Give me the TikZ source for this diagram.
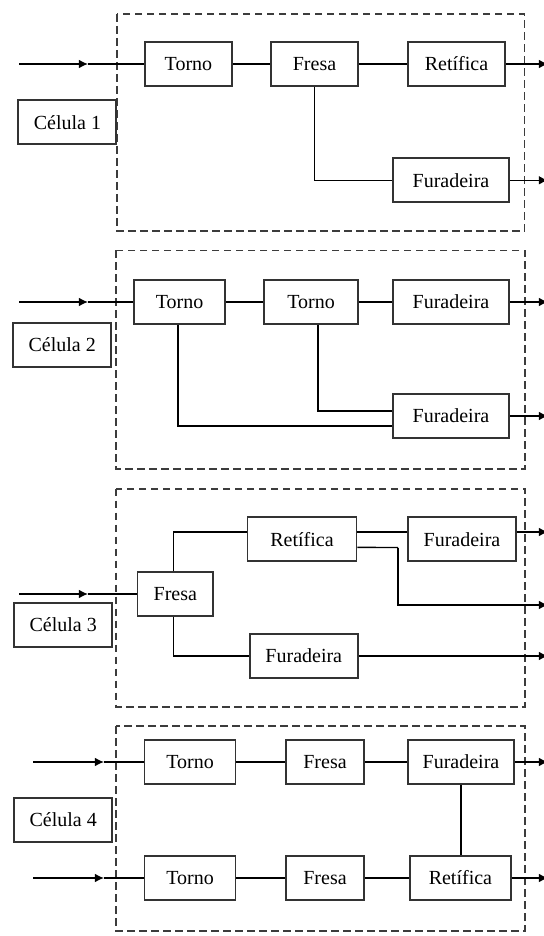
\documentclass[tikz,border=0pt]{standalone}
\usepackage{fontspec}
\setmainfont{Liberation Serif}
\usetikzlibrary{arrows.meta, calc}
\definecolor{boxgray}{HTML}{333333}
\definecolor{dashgray}{HTML}{3C3C3C}

\begin{document}
\begin{tikzpicture}[
  x=0.5pt, y=-0.5pt,
  >={Latex[length=4.6pt, width=4.4pt]},
  maq/.style={draw=boxgray, line width=0.95pt, minimum height=22pt, inner sep=0pt,
    font=\fontsize{10}{12}\selectfont},
  rotulo/.style={maq, minimum width=49pt},
  lig/.style={line width=0.7pt},
  celula/.style={draw=dashgray, line width=0.8pt, dash pattern=on 3.8pt off 2.2pt},
]
\useasboundingbox (0,0) rectangle (543,936);

% ============ Célula 1 ============
\draw[celula] (117,14) rectangle (524.6,231);
\node[rotulo] (cel1) at (67.4,122.4) {Célula 1};

\node[maq, minimum width=43.6pt] (torno1) at (188.4,64) {Torno};
\node[maq, minimum width=43.5pt] (fresa1) at (314.5,64) {Fresa};
\node[maq, minimum width=48.5pt] (ret1)   at (456.5,64) {Retífica};
\node[maq, minimum width=58pt]   (fura1)  at (451,180.3) {Furadeira};

\coordinate (in1)  at (19,64);
\coordinate (tip1) at (88,64);
\coordinate (out1a) at (548,64);
\coordinate (out1b) at (548,180.3);

\draw[lig, ->] (in1) -- (tip1);
\draw[lig] (tip1) -- (torno1) -- (fresa1) -- (ret1);
\draw[lig] (fresa1.south) |- (fura1.west);
\draw[lig, ->] (ret1.east) -- (out1a);
\draw[lig, ->] (fura1.east) -- (out1b);

% ============ Célula 2 ============
\draw[celula] (116,250.4) rectangle (525,469);
\node[rotulo] (cel2) at (62.2,345) {Célula 2};

\node[maq, minimum width=45.5pt] (torno2a) at (179.5,302) {Torno};
\node[maq, minimum width=47pt]   (torno2b) at (311,302) {Torno};
\node[maq, minimum width=58pt]   (fura2a)  at (451,302) {Furadeira};
\node[maq, minimum width=58pt]   (fura2b)  at (451,416) {Furadeira};

\coordinate (in2)  at (19,302);
\coordinate (tip2) at (88,302);
\coordinate (out2a) at (548,302);
\coordinate (out2b) at (548,416);

\draw[lig, ->] (in2) -- (tip2);
\draw[lig] (tip2) -- (torno2a) -- (torno2b) -- (fura2a);
\draw[lig] ([xshift=-0.7pt]torno2a.south) |- ([yshift=-5pt]fura2b.west);
\draw[lig] ([xshift=3.5pt]torno2b.south) |- ([yshift=2.6pt]fura2b.west);
\draw[lig, ->] (fura2a.east) -- (out2a);
\draw[lig, ->] (fura2b.east) -- (out2b);

% ============ Célula 3 ============
\draw[celula] (116,488.7) rectangle (525,706.8);
\node[rotulo] (cel3) at (63.2,625) {Célula 3};

\node[maq, minimum width=37.8pt] (fresa3) at (175.3,594) {Fresa};
\node[maq, minimum width=54.5pt] (ret3)   at (302,539.4) {Retífica};
\node[maq, minimum width=54pt]   (fura3a) at (462,539.4) {Furadeira};
\node[maq, minimum width=54pt]   (fura3b) at (303.8,656) {Furadeira};

\coordinate (in3)  at (19,594);
\coordinate (tip3) at (88,594);
\coordinate (dobra3) at (398,547.5);
\coordinate (out3a) at (548,532);
\coordinate (out3b) at (548,605);
\coordinate (out3c) at (548,656);

\draw[lig, ->] (in3) -- (tip3);
\draw[lig] (tip3) -- (fresa3);
\draw[lig] ([xshift=-1pt]fresa3.north) |- ([yshift=3.7pt]ret3.west);
\draw[lig] ([xshift=-1pt]fresa3.south) |- (fura3b.west);
\draw[lig] ([yshift=3.7pt]ret3.east) -- ([yshift=3.7pt]fura3a.west);
\draw[lig] ([yshift=-4pt]ret3.east) -- (dobra3);
\draw[lig, ->] (dobra3) |- (out3b);
\draw[lig, ->] ([yshift=3.7pt]fura3a.east) -- (out3a);
\draw[lig, ->] (fura3b.east) -- (out3c);

% ============ Célula 4 ============
\draw[celula] (116,726) rectangle (525,931);
\node[rotulo] (cel4) at (63.2,820) {Célula 4};

\node[maq, minimum width=45.5pt] (torno4a) at (190,762) {Torno};
\node[maq, minimum width=39.3pt] (fresa4a) at (325,762) {Fresa};
\node[maq, minimum width=53pt]   (fura4a)  at (461,762) {Furadeira};
\node[maq, minimum width=45.5pt] (torno4b) at (190,878) {Torno};
\node[maq, minimum width=39.3pt] (fresa4b) at (325,878) {Fresa};
\node[maq, minimum width=50.3pt] (ret4b)   at (460.4,878) {Retífica};

\coordinate (in4a)  at (33,762);
\coordinate (tip4a) at (104,762);
\coordinate (in4b)  at (33,878);
\coordinate (tip4b) at (104,878);
\coordinate (out4a) at (548,762);
\coordinate (out4b) at (548,878);

\draw[lig, ->] (in4a) -- (tip4a);
\draw[lig] (tip4a) -- (torno4a) -- (fresa4a) -- (fura4a);
\draw[lig, ->] (in4b) -- (tip4b);
\draw[lig] (tip4b) -- (torno4b) -- (fresa4b) -- (ret4b);
\draw[lig] (fura4a.south) -- (fura4a.south |- ret4b.north);
\draw[lig, ->] (fura4a.east) -- (out4a);
\draw[lig, ->] (ret4b.east) -- (out4b);

\end{tikzpicture}
\end{document}
